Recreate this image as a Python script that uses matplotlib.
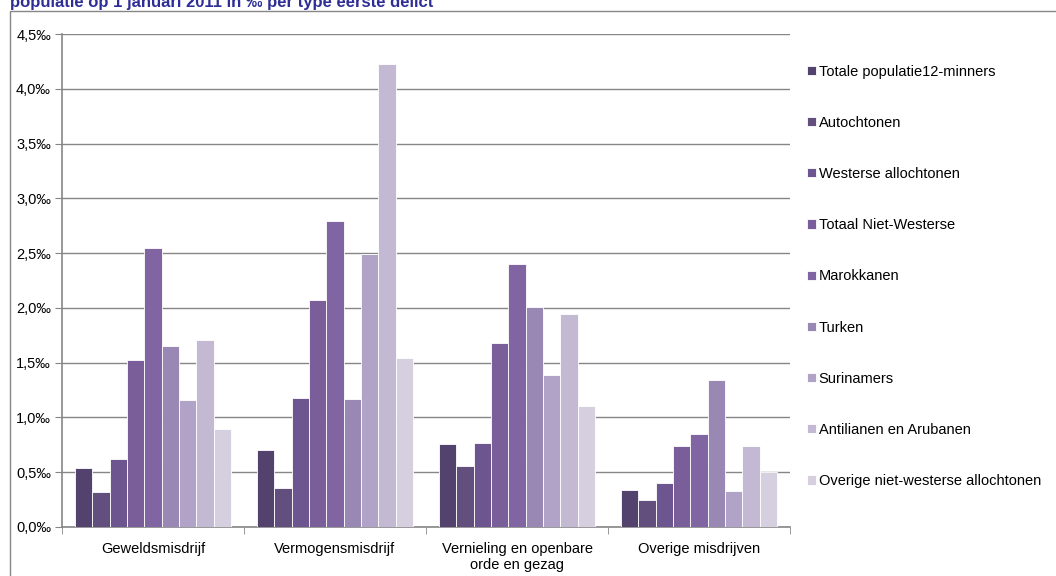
import numpy as np
import matplotlib.pyplot as plt
from matplotlib.patches import Rectangle

plt.rcParams['font.family'] = ['Liberation Sans', 'DejaVu Sans']

categories = ['Geweldsmisdrijf', 'Vermogensmisdrijf',
              'Vernieling en openbare\norde en gezag', 'Overige misdrijven']
series = ['Totale populatie12-minners', 'Autochtonen', 'Westerse allochtonen',
          'Totaal Niet-Westerse', 'Marokkanen', 'Turken', 'Surinamers',
          'Antilianen en Arubanen', 'Overige niet-westerse allochtonen']
values = [
    [0.54, 0.70, 0.76, 0.34],
    [0.32, 0.36, 0.56, 0.25],
    [0.62, 1.18, 0.77, 0.40],
    [1.52, 2.07, 1.68, 0.74],
    [2.55, 2.79, 2.40, 0.85],
    [1.65, 1.17, 2.01, 1.34],
    [1.16, 2.49, 1.39, 0.33],
    [1.71, 4.23, 1.94, 0.74],
    [0.89, 1.54, 1.10, 0.50],
]
colors = ['#54426e', '#624f7e', '#6d5690', '#7a5e9a', '#8165a2',
          '#9a88b4', '#b1a3c8', '#c4b9d2', '#d6cfe0']
yticks = [0, 0.5, 1.0, 1.5, 2.0, 2.5, 3.0, 3.5, 4.0, 4.5]

fig = plt.figure(figsize=(10.56, 5.76), dpi=100)
ax = fig.add_axes([62/1056, 49/576, 728/1056, 493/576])

x = np.arange(len(categories))
n = len(series)
w = 0.86 / n
for i in range(n):
    ax.bar(x - 0.43 + w*(i + 0.5), values[i], width=w, color=colors[i],
           edgecolor='white', linewidth=0.6, label=series[i], zorder=3)

ax.set_xlim(-0.5, len(categories) - 0.5)
ax.set_ylim(0, 4.5)
ax.set_yticks(yticks)
ax.set_yticklabels([('%.1f' % v).replace('.', ',') + '‰' for v in yticks], fontsize=10.5)
ax.set_xticks(x)
ax.set_xticklabels(categories, fontsize=10.5, linespacing=1.15)
ax.set_xticks(np.arange(len(categories) + 1) - 0.5, minor=True)
ax.tick_params(axis='x', which='major', length=0, pad=11)
ax.tick_params(axis='x', which='minor', length=5, color='#868686')
ax.tick_params(axis='y', length=5, color='#868686', pad=3)
ax.grid(axis='y', color='#868686', linewidth=1, zorder=0)
for s in ['top', 'right']:
    ax.spines[s].set_visible(False)
for s in ['left', 'bottom']:
    ax.spines[s].set_color('#868686')
    ax.spines[s].set_linewidth(1.2)

leg = fig.legend(loc='upper left', bbox_to_anchor=(794/1056, 513/576 + 0.02),
                 frameon=False, fontsize=10.5, handlelength=0.6, handleheight=0.6,
                 handletextpad=0.2, labelspacing=2.55)

fig.patches.append(Rectangle((10/1056, -0.05), 1.2, (576-11)/576 + 0.05,
                             transform=fig.transFigure, fill=False,
                             edgecolor='#868686', linewidth=1))
fig.text(10/1056, 569/576, 'populatie op 1 januari 2011 in ‰ per type eerste delict',
         fontsize=12, fontweight='bold', color='#2e2e96', va='baseline', ha='left')

fig.savefig('out.png', dpi=100)
